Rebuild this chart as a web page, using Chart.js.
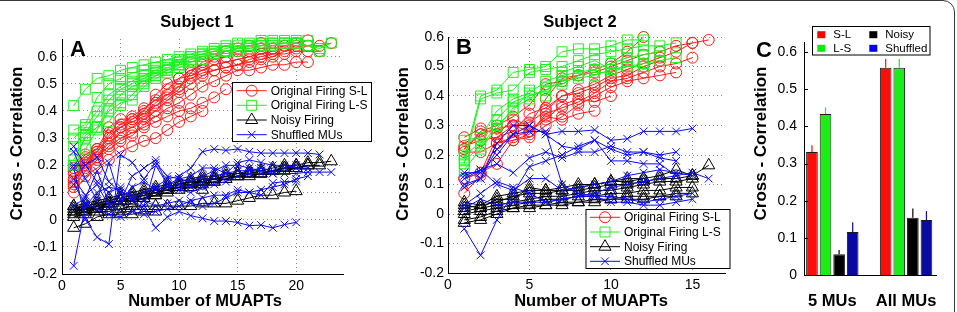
<!DOCTYPE html>
<html>
<head>
<meta charset="utf-8">
<script src="https://cdn.jsdelivr.net/npm/chart.js@4.4.0/dist/chart.umd.min.js"></script>
<style>
  body { margin: 0; background: #fff; width: 957px; height: 312px; position: relative; overflow: hidden; }
  #frame { position: absolute; left: -20px; top: 0; width: 975px; height: 360px; box-sizing: border-box;
           border: 1.5px solid #3a3a3a; border-radius: 12px; }
  canvas { position: absolute; top: 0; }
  #cA { left: 0; }
  #cB { left: 380px; }
  #cC { left: 735px; }
</style>
</head>
<body>
<div id="frame"></div>
<canvas id="cA" width="380" height="312"></canvas>
<canvas id="cB" width="355" height="312"></canvas>
<canvas id="cC" width="222" height="312"></canvas>
<script>
// ---------- Subject 1 (panel A) ----------
const aTicksX = [0, 5, 10, 15, 20];
const aTicksY = [-0.2, -0.1, 0, 0.1, 0.2, 0.3, 0.4, 0.5, 0.6];

// each inner array = one recording, values for 1..N MUAPTs
const aOrigSL = [
  [0.19, 0.24, 0.26, 0.34, 0.37, 0.37, 0.40, 0.46, 0.50, 0.52, 0.55, 0.57, 0.59, 0.60, 0.62, 0.62, 0.63, 0.63, 0.64, 0.64, 0.64, 0.64, 0.65],
  [0.15, 0.22, 0.25, 0.30, 0.34, 0.36, 0.38, 0.42, 0.45, 0.48, 0.54, 0.58, 0.60, 0.62, 0.63, 0.64, 0.65, 0.63, 0.64, 0.65, 0.66],
  [0.13, 0.20, 0.24, 0.28, 0.32, 0.34, 0.37, 0.40, 0.44, 0.47, 0.50, 0.53, 0.55, 0.56, 0.57, 0.59, 0.60, 0.61, 0.61, 0.62, 0.62, 0.62],
  [0.12, 0.18, 0.22, 0.26, 0.29, 0.31, 0.35, 0.38, 0.41, 0.43, 0.46, 0.49, 0.51, 0.53, 0.55, 0.55, 0.56, 0.57, 0.57, 0.58, 0.58],
  [0.10, 0.16, 0.19, 0.22, 0.25, 0.27, 0.29, 0.30, 0.33, 0.36, 0.38, 0.40],
  [0.17, 0.19, 0.23, 0.27, 0.30, 0.32, 0.34, 0.36, 0.38, 0.40, 0.41, 0.43, 0.45, 0.48],
  [0.14, 0.21, 0.25, 0.31, 0.34, 0.37, 0.39, 0.43, 0.46, 0.49, 0.52, 0.54, 0.55, 0.56, 0.57, 0.58, 0.59, 0.60, 0.62, 0.63],
  [0.18, 0.23, 0.26, 0.32, 0.35, 0.38, 0.41, 0.44, 0.48, 0.52, 0.53, 0.55, 0.57, 0.58, 0.59, 0.60, 0.61, 0.62]
];
const aOrigLS = [
  [0.42, 0.48, 0.52, 0.53, 0.55, 0.56, 0.57, 0.58, 0.59, 0.60, 0.61, 0.62, 0.63, 0.64, 0.65, 0.65, 0.66, 0.66, 0.66, 0.66, 0.66],
  [0.33, 0.35, 0.45, 0.50, 0.52, 0.54, 0.55, 0.56, 0.57, 0.59, 0.60, 0.61, 0.62, 0.63, 0.64, 0.64, 0.65, 0.65, 0.65, 0.65, 0.64, 0.63, 0.65],
  [0.30, 0.34, 0.40, 0.46, 0.49, 0.51, 0.53, 0.55, 0.57, 0.58, 0.60, 0.61, 0.62, 0.62, 0.63, 0.64, 0.64, 0.65, 0.65, 0.65, 0.64, 0.62],
  [0.27, 0.32, 0.38, 0.44, 0.48, 0.50, 0.52, 0.54, 0.56, 0.57, 0.59, 0.60, 0.61, 0.62, 0.63, 0.63, 0.64, 0.64, 0.65, 0.65],
  [0.22, 0.30, 0.34, 0.41, 0.46, 0.49, 0.51, 0.53, 0.55, 0.57, 0.58, 0.60, 0.61, 0.62, 0.62, 0.63],
  [0.20, 0.26, 0.33, 0.40, 0.43, 0.44, 0.49, 0.52, 0.54, 0.56, 0.58, 0.59],
  [0.20, 0.31, 0.34, 0.36, 0.42, 0.46, 0.50, 0.53, 0.55, 0.57]
];
const aNoisy = [
  [0.05, 0.06, 0.07, 0.08, 0.09, 0.10, 0.11, 0.12, 0.13, 0.14, 0.15, 0.16, 0.16, 0.17, 0.17, 0.18, 0.18, 0.19, 0.20, 0.20, 0.21, 0.21, 0.215],
  [0.04, 0.05, 0.06, 0.07, 0.08, 0.09, 0.10, 0.11, 0.12, 0.13, 0.14, 0.14, 0.15, 0.16, 0.16, 0.17, 0.17, 0.18, 0.19, 0.19, 0.20, 0.20],
  [0.03, 0.04, 0.05, 0.06, 0.07, 0.08, 0.09, 0.10, 0.11, 0.12, 0.13, 0.14, 0.15, 0.15, 0.16, 0.16, 0.17, 0.18, 0.18, 0.19, 0.20],
  [0.02, 0.03, 0.05, 0.06, 0.07, 0.07, 0.08, 0.09, 0.10, 0.11, 0.12, 0.13, 0.14, 0.15, 0.16, 0.17, 0.17, 0.18, 0.19, 0.20],
  [0.01, 0.02, 0.03, 0.03, 0.04, 0.05, 0.05, 0.05, 0.05, 0.05, 0.05, 0.06, 0.06, 0.06, 0.07, 0.08, 0.09, 0.09, 0.10, 0.105],
  [-0.03, -0.015, 0.01, 0.02, 0.02, 0.02, 0.03, 0.03],
  [0.03, 0.04, 0.04, 0.06, 0.07, 0.08, 0.09, 0.10, 0.11, 0.12, 0.13, 0.15, 0.15, 0.16, 0.17, 0.17, 0.18],
  [0.05, 0.03, 0.04, 0.05, 0.05, 0.06, 0.08, 0.09, 0.12, 0.13, 0.14, 0.11, 0.14]
];
const aShuffled = [
  [0.27, 0.20, 0.14, 0.10, 0.12, 0.08, 0.10, 0.12, 0.15, 0.16, 0.19, 0.25, 0.26, 0.255, 0.26, 0.25, 0.245, 0.245, 0.245, 0.245, 0.245, 0.24],
  [0.19, 0.00, -0.065, -0.09, 0.24, 0.21, 0.15, 0.21, 0.16, 0.15, 0.16, 0.19, 0.19, 0.17, 0.21, 0.22, 0.21, 0.20, 0.20, 0.19, 0.19],
  [-0.17, 0.05, 0.10, 0.12, 0.11, 0.07, 0.04, -0.03, 0.01, 0.03, 0.015, 0.005, -0.005, -0.005, -0.01, -0.022, -0.02, -0.03, -0.018, -0.01],
  [0.20, 0.20, 0.23, 0.14, 0.10, 0.09, 0.07, 0.05, 0.06, 0.07, 0.06, 0.05, 0.06, 0.08, 0.10, 0.10, 0.09, 0.135, 0.14, 0.14],
  [0.15, 0.09, 0.13, 0.05, 0.03, 0.03, 0.05, 0.20, 0.13, 0.11, 0.10, 0.12, 0.13, 0.14, 0.16, 0.17, 0.17, 0.17, 0.17, 0.17, 0.175, 0.175, 0.175],
  [0.13, 0.06, 0.04, 0.02, 0.01, 0.03, 0.02, 0.03, 0.04, 0.05, 0.07, 0.08, 0.09, 0.09, 0.11, 0.10, 0.11, 0.12, 0.13, 0.15, 0.16],
  [0.25, 0.15, 0.07, 0.21, 0.07, 0.16, 0.19, 0.22, 0.13, 0.15, 0.14, 0.16, 0.18, 0.20, 0.20, 0.19, 0.18, 0.17, 0.19, 0.20],
  [0.05, 0.08, 0.18, 0.06, 0.06, 0.12, 0.14, 0.11, 0.12, 0.13, 0.12, 0.14, 0.16, 0.17, 0.18, 0.18, 0.19, 0.18]
];

// ---------- Subject 2 (panel B) ----------
const bTicksX = [0, 5, 10, 15];
const bTicksY = [-0.2, -0.1, 0, 0.1, 0.2, 0.3, 0.4, 0.5, 0.6];

const bOrigSL = [
  [0.26, 0.29, 0.27, 0.32, 0.30, 0.39, 0.46, 0.47, 0.49, 0.51, 0.55, 0.60],
  [0.22, 0.28, 0.30, 0.33, 0.37, 0.44, 0.45, 0.47, 0.48, 0.50, 0.52, 0.54, 0.55, 0.57, 0.58, 0.59],
  [0.23, 0.25, 0.26, 0.28, 0.34, 0.36, 0.40, 0.42, 0.44, 0.47, 0.49, 0.51, 0.53, 0.55, 0.58],
  [0.21, 0.21, 0.24, 0.25, 0.27, 0.34, 0.36, 0.38, 0.41, 0.45, 0.46, 0.48, 0.50, 0.51, 0.53],
  [0.12, 0.14, 0.17, 0.25, 0.26, 0.30, 0.33, 0.37, 0.40, 0.43, 0.45, 0.46, 0.47, 0.48],
  [0.07, 0.13, 0.24, 0.26, 0.28, 0.33, 0.32, 0.34, 0.35],
  [0.12, 0.14, 0.26, 0.30, 0.28, 0.32, 0.37, 0.39, 0.38, 0.40],
  [0.22, 0.27, 0.29, 0.30, 0.31, 0.35, 0.40, 0.41, 0.43, 0.46, 0.47, 0.50, 0.52]
];
const bOrigLS = [
  [0.19, 0.40, 0.42, 0.48, 0.49, 0.50, 0.55, 0.56, 0.56, 0.57, 0.59, 0.59],
  [0.17, 0.39, 0.41, 0.42, 0.48, 0.49, 0.50, 0.52, 0.54, 0.55, 0.56, 0.57, 0.57, 0.58],
  [0.25, 0.26, 0.35, 0.39, 0.41, 0.45, 0.47, 0.48, 0.49, 0.51, 0.53, 0.54, 0.55],
  [0.20, 0.24, 0.32, 0.38, 0.40, 0.42, 0.45, 0.46, 0.47, 0.49, 0.50, 0.51, 0.52, 0.53],
  [0.15, 0.22, 0.29, 0.36, 0.39, 0.43, 0.44, 0.47, 0.48, 0.48, 0.50, 0.50],
  [0.18, 0.23, 0.30, 0.35, 0.42, 0.40, 0.48, 0.50, 0.52, 0.49, 0.50]
];
const bNoisy = [
  [0.04, 0.03, 0.06, 0.07, 0.08, 0.08, 0.09, 0.10, 0.10, 0.11, 0.12, 0.12, 0.13, 0.15, 0.13, 0.165],
  [0.02, 0.03, 0.04, 0.06, 0.07, 0.07, 0.08, 0.08, 0.09, 0.10, 0.10, 0.11, 0.12, 0.12, 0.13],
  [0.01, 0.02, 0.03, 0.04, 0.05, 0.06, 0.06, 0.07, 0.08, 0.08, 0.09, 0.10, 0.11, 0.11, 0.12],
  [0.00, 0.01, 0.02, 0.03, 0.04, 0.05, 0.05, 0.06, 0.06, 0.07, 0.07, 0.08, 0.08, 0.09, 0.09],
  [-0.02, -0.01, 0.01, 0.02, 0.03, 0.03, 0.04, 0.04, 0.05, 0.05, 0.06, 0.06, 0.06, 0.07, 0.07],
  [-0.03, -0.02, 0.00, 0.02, 0.02, 0.03, 0.03, 0.04, 0.04, 0.05, 0.05, 0.05, 0.06, 0.06],
  [0.03, 0.02, 0.05, 0.05, 0.09, 0.08, 0.08, 0.09, 0.10, 0.11, 0.11, 0.12]
];
const bShuffled = [
  [0.14, 0.14, 0.20, 0.27, 0.30, 0.27, 0.28, 0.28, 0.285, 0.25, 0.255, 0.28, 0.28, 0.28, 0.29],
  [-0.05, -0.14, -0.02, 0.07, 0.16, 0.18, 0.20, 0.23, 0.25, 0.22, 0.20, 0.21, 0.20, 0.21],
  [0.10, 0.12, 0.22, 0.27, 0.28, 0.28, 0.10, 0.07, 0.06, 0.04, 0.04, 0.03, 0.03, 0.04, 0.05],
  [0.03, 0.07, 0.11, 0.09, 0.07, 0.04, 0.05, 0.06, 0.07, 0.09, 0.10, 0.11, 0.12, 0.13, 0.14, 0.12],
  [0.13, 0.15, 0.17, 0.14, 0.19, 0.21, 0.19, 0.21, 0.21, 0.23, 0.21, 0.21, 0.19, 0.18],
  [0.09, 0.12, 0.24, 0.30, 0.30, 0.27, 0.23, 0.22, 0.25, 0.18, 0.18, 0.17, 0.17, 0.13],
  [0.12, 0.15, 0.10, 0.08, 0.12, 0.12, 0.08, 0.09, 0.10, 0.11, 0.13, 0.14, 0.15, 0.14, 0.13],
  [0.02, 0.05, 0.03, 0.04, 0.04, 0.04, 0.05, 0.06, 0.06, 0.06, 0.05, 0.04, 0.05, 0.06, 0.07]
];

const lineLegend = ['Original Firing S-L', 'Original Firing L-S', 'Noisy Firing', 'Shuffled MUs'];

// ---------- panel C (mean bars) ----------
const cCategories = ['5 MUs', 'All MUs'];
const cTicksY = [0, 0.1, 0.2, 0.3, 0.4, 0.5, 0.6];
const cSL = [0.331, 0.558];
const cLS = [0.433, 0.558];
const cNoisy = [0.056, 0.154];
const cShuffled = [0.116, 0.148];
const cErrSL = [0.018, 0.023];
const cErrLS = [0.018, 0.023];
const cErrNoisy = [0.011, 0.025];
const cErrShuffled = [0.026, 0.024];
const cLegend = ['S-L', 'L-S', 'Noisy', 'Shuffled'];

// ---------- styles ----------
const FONT = "'Liberation Sans', Arial, Helvetica, sans-serif";
const groupStyles = [
  { color: '#ff1a1a', point: 'circle',   r: 5.5, order: 4 },
  { color: '#22ee22', point: 'rect',     r: 7,   order: 3 },
  { color: '#000000', point: 'triangle', r: 7,   order: 2 },
  { color: '#0a0aff', point: 'crossRot', r: 5.5, order: 1 }
];
const barColors = ['#ff0d0d', '#1aee1a', '#000000', '#0a0a9e'];
const legendSwatch = ['#ff0000', '#00ee00', '#000000', '#0000ff'];

function lineSets(groups) {
  const sets = [];
  groups.forEach((lines, g) => {
    const st = groupStyles[g];
    lines.forEach(vals => {
      sets.push({
        data: vals.map((v, i) => ({ x: i + 1, y: v })),
        borderColor: st.color,
        borderWidth: 1,
        pointStyle: st.point,
        pointRadius: st.r,
        pointBorderWidth: 1,
        pointBorderColor: st.color,
        pointBackgroundColor: 'rgba(0,0,0,0)',
        fill: false,
        tension: 0,
        clip: 8,
        order: st.order
      });
    });
  });
  return sets;
}

// small marker painter for the hand drawn legends
function marker(ctx, style, x, y, r) {
  ctx.beginPath();
  if (style === 'circle') {
    ctx.arc(x, y, r, 0, Math.PI * 2);
  } else if (style === 'rect') {
    const s = r * Math.SQRT1_2;
    ctx.rect(x - s, y - s, 2 * s, 2 * s);
  } else if (style === 'triangle') {
    for (let k = 0; k < 3; k++) {
      const a = k * 2 * Math.PI / 3;
      const px = x + Math.sin(a) * r, py = y - Math.cos(a) * r;
      if (k === 0) ctx.moveTo(px, py); else ctx.lineTo(px, py);
    }
    ctx.closePath();
  } else {
    const s = r * Math.SQRT1_2;
    ctx.moveTo(x - s, y - s); ctx.lineTo(x + s, y + s);
    ctx.moveTo(x + s, y - s); ctx.lineTo(x - s, y + s);
  }
  ctx.stroke();
}

// titles, panel letter, axis names and legend
const panelDecor = {
  id: 'panelDecor',
  afterDraw(chart, args, o) {
    const ctx = chart.ctx;
    ctx.save();
    ctx.fillStyle = '#000';
    ctx.textBaseline = 'middle';
    (o.texts || []).forEach(t => {
      ctx.save();
      ctx.font = t.font;
      ctx.textAlign = t.align || 'center';
      ctx.translate(t.x, t.y);
      if (t.rot) ctx.rotate(t.rot);
      ctx.fillText(t.text, 0, 0);
      ctx.restore();
    });

    const lg = o.legend;
    if (lg) {
      ctx.fillStyle = '#fff';
      ctx.fillRect(lg.x, lg.y, lg.w, lg.h);
      ctx.strokeStyle = '#000';
      ctx.lineWidth = 1;
      ctx.strokeRect(lg.x, lg.y, lg.w, lg.h);
      ctx.font = '12px ' + FONT;
      ctx.textAlign = 'left';
      lineLegend.forEach((name, i) => {
        const st = groupStyles[i];
        const y = lg.rows[i];
        ctx.strokeStyle = st.color;
        ctx.beginPath();
        ctx.moveTo(lg.x0, y); ctx.lineTo(lg.x1, y);
        ctx.stroke();
        marker(ctx, st.point, (lg.x0 + lg.x1) / 2, y, st.r);
        ctx.fillStyle = '#000';
        ctx.fillText(name, lg.tx, y + 0.5);
      });
    }

    const bl = o.barLegend;
    if (bl) {
      ctx.fillStyle = '#fff';
      ctx.fillRect(bl.x, bl.y, bl.w, bl.h);
      ctx.strokeStyle = '#000';
      ctx.lineWidth = 1;
      ctx.strokeRect(bl.x, bl.y, bl.w, bl.h);
      ctx.font = '11.5px ' + FONT;
      ctx.textAlign = 'left';
      cLegend.forEach((name, i) => {
        const col = bl.cols[Math.floor(i / 2)];
        const y = bl.rows[i % 2];
        ctx.fillStyle = legendSwatch[i];
        ctx.fillRect(col, y - 3.5, 8, 7);
        ctx.fillStyle = '#000';
        ctx.fillText(name, col + 16, y + 0.5);
      });
    }
    ctx.restore();
  }
};

// error bars (upper half only) + inward ticks for panel C
const barExtras = {
  id: 'barExtras',
  afterDatasetsDraw(chart, args, o) {
    const ctx = chart.ctx;
    const ys = chart.scales.y;
    ctx.save();
    ctx.lineWidth = 1.2;
    chart.data.datasets.forEach((ds, i) => {
      const meta = chart.getDatasetMeta(i);
      meta.data.forEach((bar, j) => {
        const top = ys.getPixelForValue(ds.data[j].y + o.errors[i][j]);
        ctx.strokeStyle = barColors[i];
        ctx.beginPath();
        ctx.moveTo(bar.x, bar.y);
        ctx.lineTo(bar.x, top);
        ctx.stroke();
      });
    });
    ctx.strokeStyle = '#000';
    ctx.lineWidth = 1;
    const left = chart.chartArea.left;
    cTicksY.forEach(v => {
      const y = Math.round(ys.getPixelForValue(v)) + 0.5;
      ctx.beginPath();
      ctx.moveTo(left, y); ctx.lineTo(left + 4, y);
      ctx.stroke();
    });
    ctx.restore();
  }
};

function lineScales(c) {
  const tickFont = { size: 14, family: FONT };
  return {
    x: {
      type: 'linear', min: c.xMin, max: c.xMax,
      afterBuildTicks: s => { s.ticks = c.xTicks.map(v => ({ value: v })); },
      afterFit: s => { s.height = c.xH; },
      ticks: { color: '#000', font: tickFont, padding: 4, maxRotation: 0, autoSkip: false, callback: v => String(v) },
      grid: { color: '#8a8a8a', lineWidth: 1, drawTicks: false },
      border: { display: true, color: '#000', width: 1, dash: [1, 3] }
    },
    y: {
      type: 'linear', min: c.yMin, max: c.yMax,
      afterBuildTicks: s => { s.ticks = c.yTicks.map(v => ({ value: v })); },
      afterFit: s => { s.width = c.yW; },
      ticks: { color: '#000', font: tickFont, padding: c.yPad, autoSkip: false, callback: v => String(v) },
      grid: { color: '#8a8a8a', lineWidth: 1, drawTicks: false },
      border: { display: true, color: '#000', width: 1, dash: [1, 3] }
    }
  };
}

const BOLD = 'bold 16.5px ' + FONT;
const YTITLE = 'bold 17px ' + FONT;
const LETTER = 'bold 22px ' + FONT;

// panel A
new Chart(document.getElementById('cA'), {
  type: 'line',
  data: { datasets: lineSets([aOrigSL, aOrigLS, aNoisy, aShuffled]) },
  plugins: [panelDecor],
  options: {
    responsive: false, animation: false, events: [],
    layout: { padding: { left: 0, top: 39, right: 37, bottom: 0 } },
    scales: lineScales({ xMin: 0, xMax: 24, xTicks: aTicksX, xH: 38, yMin: -0.2, yMax: 0.665, yTicks: aTicksY, yW: 62, yPad: 5 }),
    plugins: {
      legend: { display: false }, tooltip: { enabled: false },
      panelDecor: {
        texts: [
          { text: 'Subject 1', x: 197, y: 22, font: BOLD },
          { text: 'Number of MUAPTs', x: 205, y: 301, font: BOLD },
          { text: 'Cross - Correlation', x: 17.5, y: 143.5, font: YTITLE, rot: -Math.PI / 2 },
          { text: 'A', x: 70, y: 50, font: LETTER, align: 'left' }
        ],
        legend: { x: 232.5, y: 82.5, w: 139, h: 59, rows: [90.7, 105.3, 120, 134.7], x0: 236.7, x1: 266.7, tx: 270.7 }
      }
    }
  }
});

// panel B
new Chart(document.getElementById('cB'), {
  type: 'line',
  data: { datasets: lineSets([bOrigSL, bOrigLS, bNoisy, bShuffled]) },
  plugins: [panelDecor],
  options: {
    responsive: false, animation: false, events: [],
    layout: { padding: { left: 0, top: 37, right: 10, bottom: 0 } },
    scales: lineScales({ xMin: 0, xMax: 17, xTicks: bTicksX, xH: 39, yMin: -0.2, yMax: 0.6, yTicks: bTicksY, yW: 68, yPad: 4 }),
    plugins: {
      legend: { display: false }, tooltip: { enabled: false },
      panelDecor: {
        texts: [
          { text: 'Subject 2', x: 200, y: 22, font: BOLD },
          { text: 'Number of MUAPTs', x: 211, y: 301, font: BOLD },
          { text: 'Cross - Correlation', x: 23.3, y: 144, font: YTITLE, rot: -Math.PI / 2 },
          { text: 'B', x: 76, y: 48, font: LETTER, align: 'left' }
        ],
        legend: { x: 206, y: 209.5, w: 144, h: 59, rows: [217.3, 232, 246.7, 261.3], x0: 210, x1: 240, tx: 244 }
      }
    }
  }
});

// panel C
const cSeries = [cSL, cLS, cNoisy, cShuffled];
const cErrors = [cErrSL, cErrLS, cErrNoisy, cErrShuffled];
new Chart(document.getElementById('cC'), {
  type: 'bar',
  data: {
    datasets: cSeries.map((vals, i) => ({
      label: cLegend[i],
      data: vals.map((v, j) => ({ x: j + 1, y: v })),
      backgroundColor: barColors[i],
      borderColor: '#1a1a1a',
      borderWidth: 1,
      barPercentage: 0.857,
      categoryPercentage: 0.737
    }))
  },
  plugins: [panelDecor, barExtras],
  options: {
    responsive: false, animation: false, events: [],
    layout: { padding: { left: 0, top: 42, right: 16, bottom: 0 } },
    scales: {
      x: {
        type: 'linear', min: 0.616, max: 2.414, offset: false,
        afterBuildTicks: s => { s.ticks = cCategories.map((c, i) => ({ value: i + 1 })); },
        afterFit: s => { s.height = 37; },
        ticks: { color: '#000', font: { size: 16.5, weight: 'bold', family: FONT }, padding: 17, maxRotation: 0, autoSkip: false,
                 callback: (v, i) => cCategories[i] },
        grid: { display: false, drawTicks: false },
        border: { display: true, color: '#000', width: 1 }
      },
      y: {
        type: 'linear', min: 0, max: 0.627,
        afterBuildTicks: s => { s.ticks = cTicksY.map(v => ({ value: v })); },
        afterFit: s => { s.width = 69; },
        ticks: { color: '#000', font: { size: 14, family: FONT }, padding: 7, autoSkip: false, callback: v => String(v) },
        grid: { display: false, drawTicks: false },
        border: { display: true, color: '#000', width: 1 }
      }
    },
    plugins: {
      legend: { display: false }, tooltip: { enabled: false },
      barExtras: { errors: cErrors },
      panelDecor: {
        texts: [
          { text: 'Cross - Correlation', x: 26.7, y: 143.5, font: YTITLE, rot: -Math.PI / 2 },
          { text: 'C', x: 21, y: 51, font: LETTER, align: 'left' }
        ],
        barLegend: { x: 77.5, y: 26.5, w: 117.5, h: 28.5, cols: [82.3, 134.3], rows: [34.7, 48.3] }
      }
    }
  }
});
</script>
</body>
</html>
